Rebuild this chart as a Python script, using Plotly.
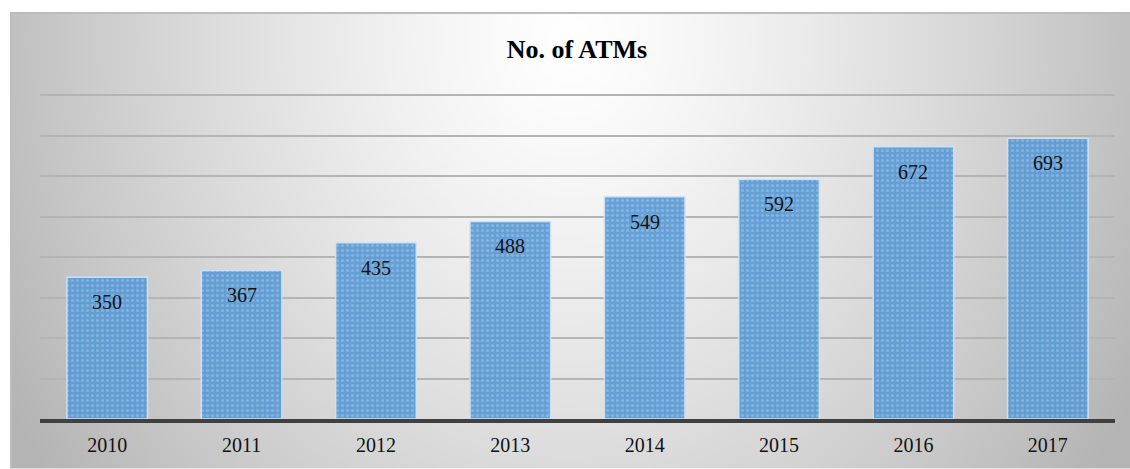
import base64, struct, zlib
import numpy as np
import plotly.graph_objects as go

# ---- data ----
years = ["2010", "2011", "2012", "2013", "2014", "2015", "2016", "2017"]
atms = [350, 367, 435, 488, 549, 592, 672, 693]
title_text = "No. of ATMs"

W, H = 1130, 469
L, R, T, B = 40, 1115, 93, 419.5  # plot area in pixels
YMAX = 805
SERIF = "Liberation Serif, 'Times New Roman', Times, 'DejaVu Serif', serif"


def png_gray(arr):
    h, w = arr.shape
    raw = b"".join(b"\x00" + arr[i].astype(np.uint8).tobytes() for i in range(h))

    def chunk(tag, data):
        c = struct.pack(">I", len(data)) + tag + data
        return c + struct.pack(">I", zlib.crc32(tag + data) & 0xFFFFFFFF)

    png = b"\x89PNG\r\n\x1a\n"
    png += chunk(b"IHDR", struct.pack(">IIBBBBB", w, h, 8, 0, 0, 0, 0))
    png += chunk(b"IDAT", zlib.compress(raw, 9))
    png += chunk(b"IEND", b"")
    return "data:image/png;base64," + base64.b64encode(png).decode()


# background gradient (chart area box from x=10,y=12 to right/bottom edge)
bx0, by0, bx1, by1 = 10, 12, W, H
sc = 4
gw, gh = int((bx1 - bx0) / sc), int((by1 - by0) / sc)
xs = bx0 + (np.arange(gw) + 0.5) * sc
ys = by0 + (np.arange(gh) + 0.5) * sc
X, Y = np.meshgrid(xs, ys)
d = np.sqrt(((X - 570) / 560) ** 2 + ((Y - 40) / 650) ** 2)
val = np.clip(255 - 62 * d ** 1.3, 180, 255)
bg = png_gray(val)

pw, ph = R - L, B - T


def px2paper_x(x):
    return (x - L) / pw


def px2paper_y(y):
    return (B - y) / ph


fig = go.Figure()
fig.add_trace(go.Bar(
    x=years, y=atms,
    marker=dict(
        color="#5b9bd5",
        opacity=0.93,
        line=dict(color="#cfe2f3", width=1.5),
        pattern=dict(shape=".", fgcolor="#a4c8ea", size=5, solidity=0.3),
    ),
    width=0.6,
    hoverinfo="skip",
))

for i, v in enumerate(atms):
    fig.add_annotation(
        x=i, y=v, text=str(v), showarrow=False, yshift=-25, yanchor="middle",
        font=dict(family=SERIF, size=20, color="#111111"),
    )

fig.update_layout(
    width=W, height=H,
    margin=dict(l=L, r=W - R, t=T, b=H - B),
    paper_bgcolor="white",
    plot_bgcolor="rgba(0,0,0,0)",
    showlegend=False,
    title=dict(
        text="<b>" + title_text + "</b>",
        x=577 / W, xanchor="center", y=1 - 49 / H, yanchor="middle",
        font=dict(family=SERIF, size=26, color="#000000"),
    ),
    images=[dict(
        source=bg, xref="paper", yref="paper",
        x=px2paper_x(bx0), y=px2paper_y(by0),
        sizex=(bx1 - bx0) / pw, sizey=(by1 - by0) / ph,
        xanchor="left", yanchor="top", sizing="stretch", layer="below",
    )],
    shapes=[
        dict(type="line", xref="paper", yref="paper",
             x0=px2paper_x(bx0), x1=px2paper_x(bx1),
             y0=px2paper_y(by0 + 1), y1=px2paper_y(by0 + 1),
             line=dict(color="#bdbdbd", width=2), layer="below"),
        dict(type="line", xref="paper", yref="paper",
             x0=px2paper_x(bx0 + 1), x1=px2paper_x(bx0 + 1),
             y0=px2paper_y(by0), y1=px2paper_y(by1),
             line=dict(color="#bdbdbd", width=2), layer="below"),
    ],
    xaxis=dict(
        type="category", range=[-0.5, len(years) - 0.5],
        showline=True, linewidth=4, linecolor="#404040",
        showgrid=False, ticks="", zeroline=False, ticklabelstandoff=5,
        tickfont=dict(family=SERIF, size=20, color="#111111"),
    ),
    yaxis=dict(
        range=[0, YMAX], dtick=100, showticklabels=False,
        showgrid=True, gridcolor="#b4b4b4", gridwidth=1.5,
        zeroline=False, showline=False, ticks="",
    ),
    bargap=0.4,
)

fig.write_html(
    "out.html",
    config={"displayModeBar": False},
    post_script="document.body.style.margin='0';document.body.style.padding='0';",
)
